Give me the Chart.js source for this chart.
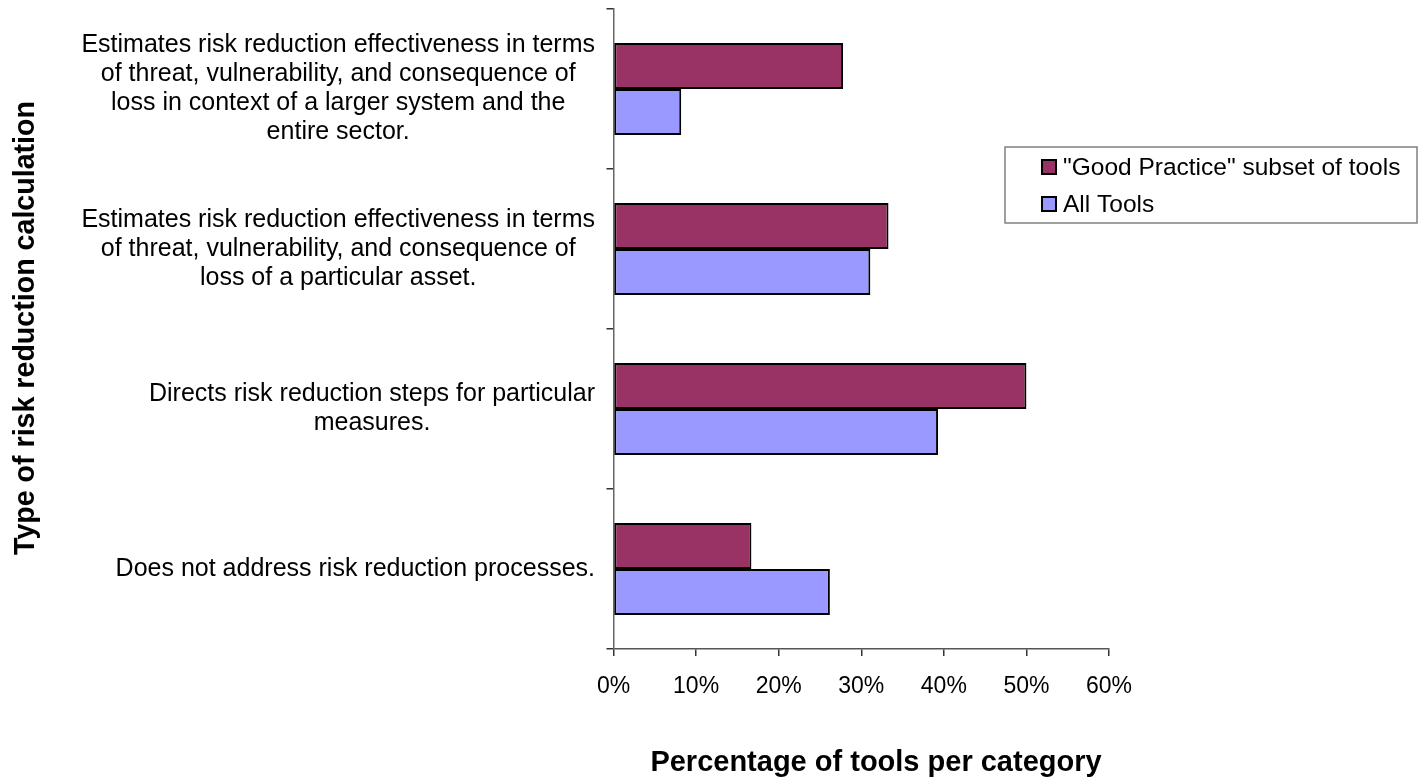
<!DOCTYPE html>
<html>
<head>
<meta charset="utf-8">
<title>Risk reduction calculation</title>
<script src="https://cdn.jsdelivr.net/npm/chart.js@4.4.1/dist/chart.umd.min.js"></script>
<style>
  html, body { margin: 0; padding: 0; background: #fff; }
  #wrap { width: 1420px; height: 783px; position: relative; }
</style>
</head>
<body>
<div id="wrap"><canvas id="bar_chart"></canvas></div>
<script>
var categories = [
    ['Estimates risk reduction effectiveness in terms', 'of threat, vulnerability, and consequence of', 'loss in context of a larger system and the', 'entire sector.'],
    ['Estimates risk reduction effectiveness in terms', 'of threat, vulnerability, and consequence of', 'loss of a particular asset.'],
    ['Directs risk reduction steps for particular', 'measures.'],
    ['Does not address risk reduction processes.']
];
var goodPractice = [27.8, 33.3, 50.0, 16.7];
var allTools = [8.2, 31.1, 39.3, 26.2];
var seriesNames = ['"Good Practice" subset of tools', 'All Tools'];
var xTicks = [0, 10, 20, 30, 40, 50, 60];

var FONT = '"Liberation Sans", Arial, sans-serif';

// category labels, axis titles and the legend box are painted by hand
var extras = {
    id: 'extras',
    afterDraw: function (chart) {
        var ctx = chart.ctx;
        var yScale = chart.scales.y;
        ctx.save();
        ctx.fillStyle = '#000';

        // multi-line category labels, each block right aligned, lines centred
        ctx.font = '25px ' + FONT;
        ctx.textAlign = 'center';
        ctx.textBaseline = 'middle';
        var lh = 29;
        chart.data.labels.forEach(function (lines, i) {
            var cy = yScale.getPixelForTick(i);
            var widest = 0;
            lines.forEach(function (l) { widest = Math.max(widest, ctx.measureText(l).width); });
            var cx = 595 - widest / 2;
            lines.forEach(function (l, j) {
                ctx.fillText(l, cx, cy + (j - (lines.length - 1) / 2) * lh);
            });
        });

        // axis titles
        ctx.font = 'bold 29px ' + FONT;
        ctx.textBaseline = 'alphabetic';
        ctx.fillText('Percentage of tools per category', 876, 771);
        ctx.save();
        ctx.translate(34, 328);
        ctx.rotate(-Math.PI / 2);
        ctx.font = 'bold 28.6px ' + FONT;
        ctx.fillText('Type of risk reduction calculation', 0, 0);
        ctx.restore();

        // legend
        ctx.strokeStyle = '#808080';
        ctx.lineWidth = 1.5;
        ctx.strokeRect(1005, 147, 412, 76);
        ctx.font = '24.5px ' + FONT;
        ctx.textAlign = 'left';
        ctx.textBaseline = 'middle';
        chart.data.datasets.forEach(function (ds, i) {
            var ry = 167 + i * 37;
            ctx.fillStyle = ds.backgroundColor;
            ctx.fillRect(1042, ry - 7, 14, 14);
            ctx.strokeStyle = '#000';
            ctx.lineWidth = 2;
            ctx.strokeRect(1042, ry - 7, 14, 14);
            ctx.fillStyle = '#000';
            ctx.fillText(ds.label, 1063, ry + 1);
        });
        ctx.restore();
    }
};

new Chart(document.getElementById('bar_chart').getContext('2d'), {
    type: 'bar',
    data: {
        labels: categories,
        datasets: [{
            label: seriesNames[0],
            data: goodPractice,
            backgroundColor: '#993366',
            borderColor: '#000',
            borderWidth: 2,
            borderSkipped: false
        }, {
            label: seriesNames[1],
            data: allTools,
            backgroundColor: '#9999FF',
            borderColor: '#000',
            borderWidth: 2,
            borderSkipped: false
        }]
    },
    options: {
        indexAxis: 'y',
        responsive: true,
        maintainAspectRatio: false,
        animation: false,
        categoryPercentage: 0.575,
        barPercentage: 1.0,
        layout: { padding: { top: 9, right: 311, left: 0, bottom: 0 } },
        plugins: {
            legend: { display: false },
            tooltip: { enabled: false }
        },
        scales: {
            x: {
                min: xTicks[0],
                max: xTicks[xTicks.length - 1],
                afterBuildTicks: function (s) { s.ticks = xTicks.map(function (v) { return { value: v }; }); },
                ticks: {
                    callback: function (v) { return v + '%'; },
                    font: { size: 23, family: FONT },
                    color: '#000',
                    padding: 17,
                    maxRotation: 0
                },
                grid: { drawOnChartArea: false, drawTicks: true, tickLength: 7, color: '#333', lineWidth: 1.5 },
                border: { color: '#555', width: 1.5 },
                afterFit: function (s) { s.height = 134; }
            },
            y: {
                ticks: { display: false },
                grid: { drawOnChartArea: false, drawTicks: true, tickLength: 7, color: '#333', lineWidth: 1.5 },
                border: { color: '#666', width: 1.5 },
                afterFit: function (s) { s.width = 613.5; }
            }
        }
    },
    plugins: [extras]
});
</script>
</body>
</html>
